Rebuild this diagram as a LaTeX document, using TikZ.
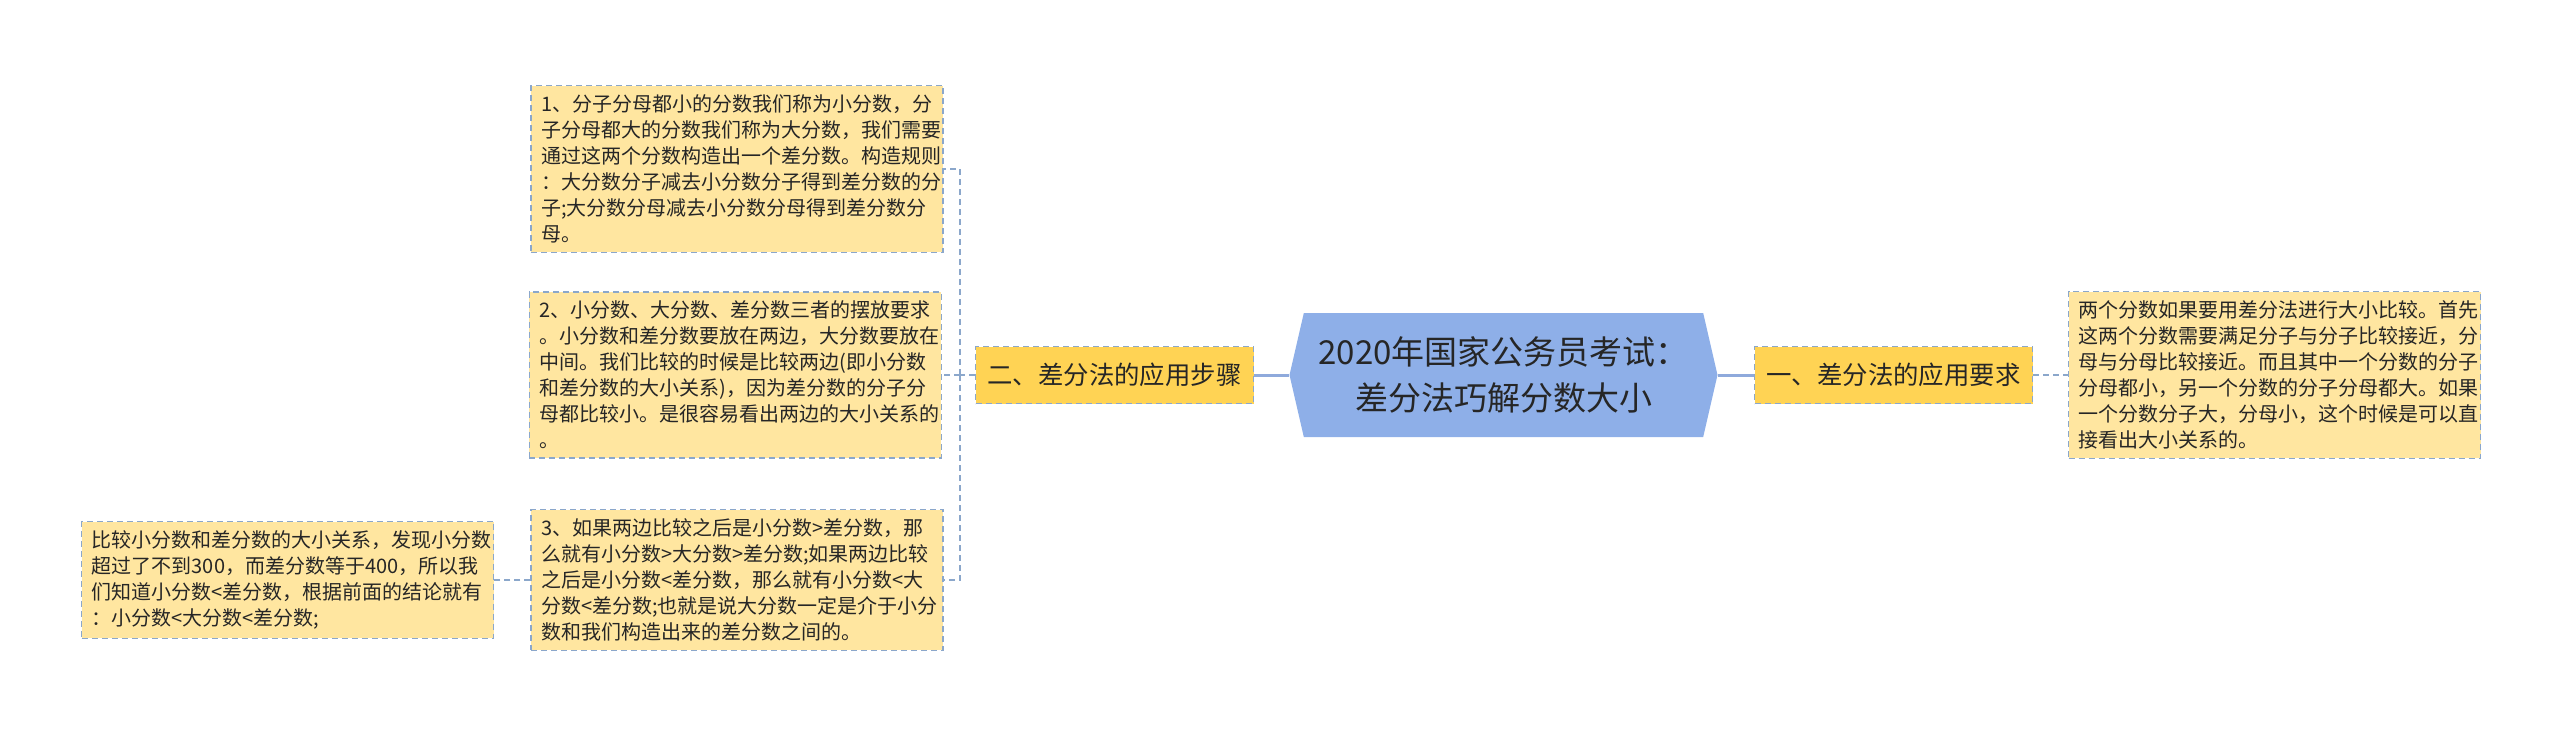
\documentclass[tikz,border=0pt]{standalone}
\usepackage{fontspec}
\usepackage{tikz}
\usetikzlibrary{positioning, shapes.symbols, calc}
\newfontfamily\cjk{Noto Sans CJK SC}
\definecolor{TitleBlue}{RGB}{142, 175, 232}
\definecolor{TrunkBlue}{RGB}{143, 170, 220}
\definecolor{BranchGold}{RGB}{255, 211, 84}
\definecolor{LeafCream}{RGB}{255, 230, 160}
\definecolor{EdgeSlate}{RGB}{139, 167, 203}
\definecolor{InkGray}{RGB}{38, 38, 38}

\begin{document}
\begin{tikzpicture}[
    x=0.5pt, y=0.5pt,
    font=\cjk, text=InkGray,
    leafbox/.style={rectangle, draw=EdgeSlate, dash pattern=on 3pt off 2pt, line width=0.6pt, fill=LeafCream, align=left, text width=196pt, inner xsep=5pt, inner ysep=4.5pt, font=\cjk\fontsize{10pt}{13pt}\selectfont},
    branchbox/.style={rectangle, draw=EdgeSlate, dash pattern=on 3pt off 2pt, line width=0.6pt, fill=BranchGold, minimum height=28.5pt, inner xsep=6pt, font=\cjk\fontsize{12.7pt}{15pt}\selectfont},
    titlebox/.style={signal, signal to=west and east, signal pointer angle=154, fill=TitleBlue, minimum width=214pt, minimum height=62pt, align=center, font=\cjk\fontsize{16.5pt}{23pt}\selectfont},
    trunk/.style={line width=1.5pt, TrunkBlue},
    twig/.style={line width=0.6pt, EdgeSlate, dash pattern=on 3pt off 2pt}
]
    \useasboundingbox (0,0) rectangle (2560,-738);

    % Root
    \node[titlebox] (title) at (1503.5,-375) {2020年国家公务员考试：\\差分法巧解分数大小};

    % Right branch
    \node[branchbox, right=18pt of title] (goal) {一、差分法的应用要求};
    \node[leafbox, right=17.5pt of goal] (need) {
        两个分数如果要用差分法进行大小比较。首先\\
        这两个分数需要满足分子与分子比较接近，分\\
        母与分母比较接近。而且其中一个分数的分子\\
        分母都小，另一个分数的分子分母都大。如果\\
        一个分数分子大，分母小，这个时候是可以直\\
        接看出大小关系的。
    };

    % Left branch
    \node[branchbox, left=17.5pt of title] (steps) {二、差分法的应用步骤};

    \node[leafbox] (rule1) at (737,-169) {
        1、分子分母都小的分数我们称为小分数，分\\
        子分母都大的分数我们称为大分数，我们需要\\
        通过这两个分数构造出一个差分数。构造规则\\
        ：大分数分子减去小分数分子得到差分数的分\\
        子;大分数分母减去小分数分母得到差分数分\\
        母。
    };
    \node[leafbox, left=16.5pt of steps] (rule2) {
        2、小分数、大分数、差分数三者的摆放要求\\
        。小分数和差分数要放在两边，大分数要放在\\
        中间。我们比较的时候是比较两边(即小分数\\
        和差分数的大小关系)，因为差分数的分子分\\
        母都比较小。是很容易看出两边的大小关系的\\
        。
    };
    \node[leafbox] (rule3) at (737,-580) {
        3、如果两边比较之后是小分数>差分数，那\\
        么就有小分数>大分数>差分数;如果两边比较\\
        之后是小分数<差分数，那么就有小分数<大\\
        分数<差分数;也就是说大分数一定是介于小分\\
        数和我们构造出来的差分数之间的。
    };
    \node[leafbox, left=18pt of rule3] (example) {
        比较小分数和差分数的大小关系，发现小分数\\
        超过了不到300，而差分数等于400，所以我\\
        们知道小分数<差分数，根据前面的结论就有\\
        ：小分数<大分数<差分数;
    };

    % Connectors
    \draw[trunk] (title.west) -- (steps.east);
    \draw[trunk] (title.east) -- (goal.west);
    \draw[twig] (goal.east) -- (need.west);

    \coordinate (fork) at (960,-375);
    \draw[twig] (steps.west) -- (fork);
    \draw[twig] (fork) |- (rule1.east);
    \draw[twig] (fork) |- (rule2.east);
    \draw[twig] (fork) |- (rule3.east);
    \draw[twig] (rule3.west) -- (example.east);

\end{tikzpicture}
\end{document}
